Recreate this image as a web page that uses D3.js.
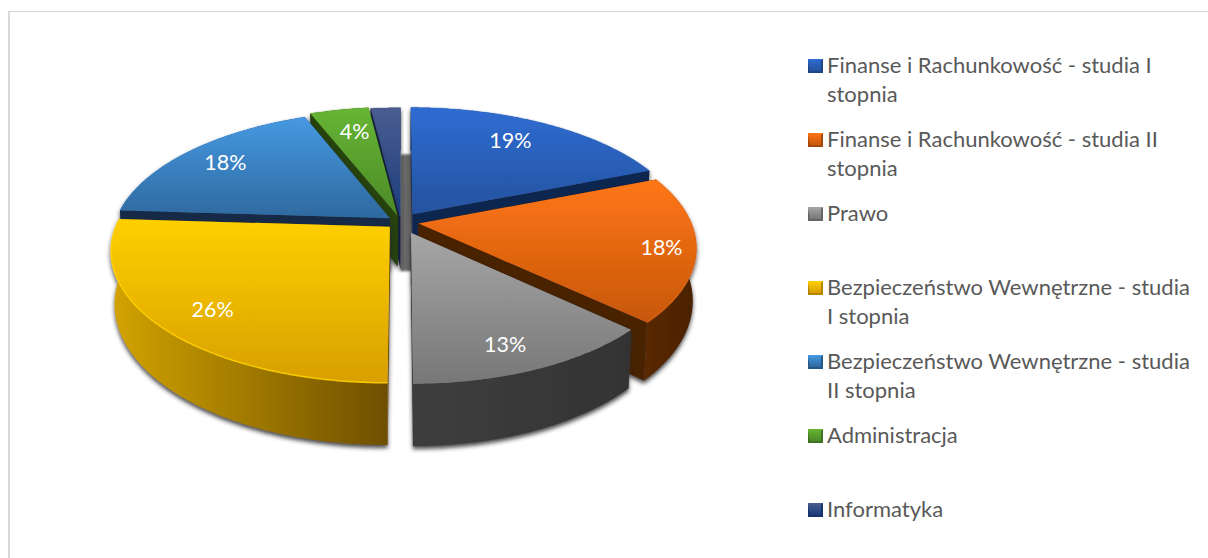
<!DOCTYPE html>
<html>
<head>
<meta charset="utf-8">
<script src="https://cdn.jsdelivr.net/npm/d3@7"></script>
<style>
  html, body { margin: 0; padding: 0; background: #fff; }
  svg { display: block; }
  text { font-family: Lato, "Open Sans", sans-serif; }
</style>
</head>
<body>
<script>
// chart values
const categories = [
    "Finanse i Rachunkowość - studia I stopnia",
    "Finanse i Rachunkowość - studia II stopnia",
    "Prawo",
    "Bezpieczeństwo Wewnętrzne - studia I stopnia",
    "Bezpieczeństwo Wewnętrzne - studia II stopnia",
    "Administracja",
    "Informatyka"
];
const values = [19, 18, 13, 26, 18, 4, 2];
const legendLines = [
    ["Finanse i Rachunkowość - studia I", "stopnia"],
    ["Finanse i Rachunkowość - studia II", "stopnia"],
    ["Prawo"],
    ["Bezpieczeństwo Wewnętrzne - studia", "I stopnia"],
    ["Bezpieczeństwo Wewnętrzne - studia", "II stopnia"],
    ["Administracja"],
    ["Informatyka"]
];
const hiddenLabels = ["Informatyka"];

// per slice look
const topFrom = ["#2f6cd2", "#ff7614", "#a6a6a6", "#ffd000", "#4699e2", "#67b534", "#4a5d90"];
const topTo = ["#24539f", "#c7570e", "#777777", "#d89f00", "#2e699f", "#4b8a27", "#1c3c7c"];
const wallFrom = ["#10264f", "#5a2905", "#3e3e3e", "#d2a300", "#152c47", "#26430f", "#0f1f40"];
const wallTo = ["#10264f", "#4a2003", "#333333", "#6e4f00", "#152c47", "#26430f", "#0f1f40"];
const rimOpacity = [0.3, 0.4, 0, 0.9, 0.25, 0.25, 0.25];
const explode = [0.075, 0.065, 0.09, 0.055, 0.05, 0.05, 0.03];
const sliceRadius = [1, 0.99, 0.95, 0.99, 1, 1.02, 1.03];
const labelRadius = [0.77, 0.87, 0.79, 0.81, 0.81, 0.78];
const labelTurn = [-2.4, 1, 2, -2, 0, 1];
const drawOrder = [6, 5, 4, 0, 1, 2, 3];
const legendY = [65, 139, 213, 287, 361, 435, 509];

const width = 1208, height = 558;
const cx = 401, cy = 222;
const R = 275, Rh = 128, persp = 0.177, depth = 51, bottomShrink = 0.988;

const svg = d3.select("body").append("svg")
    .attr("width", width)
    .attr("height", height);

const defs = svg.append("defs");

// chart frame, only the top and left sides are inside the window
svg.append("rect")
    .attr("x", 8).attr("y", 11)
    .attr("width", width - 8).attr("height", 1)
    .attr("fill", "#d9d9d9");
svg.append("rect")
    .attr("x", 8).attr("y", 11)
    .attr("width", 2).attr("height", height - 11)
    .attr("fill", "#d9d9d9");

const shadow = defs.append("filter")
    .attr("id", "shadow")
    .attr("x", "-10%").attr("y", "-10%")
    .attr("width", "120%").attr("height", "125%");
shadow.append("feDropShadow")
    .attr("dx", 0).attr("dy", 3)
    .attr("stdDeviation", 2.2)
    .attr("flood-color", "#2a2a2a")
    .attr("flood-opacity", 0.85);

const soft = defs.append("filter").attr("id", "soft");
soft.append("feGaussianBlur").attr("stdDeviation", 0.8);

function gradient(id, from, to, horizontal) {
    const g = defs.append("linearGradient")
        .attr("id", id)
        .attr("x1", 0).attr("y1", 0)
        .attr("x2", horizontal ? 1 : 0).attr("y2", horizontal ? 0 : 1);
    g.append("stop").attr("offset", 0).attr("stop-color", from);
    g.append("stop").attr("offset", 1).attr("stop-color", to);
}

// ground plane -> screen, things closer to the viewer come out bigger
function project(u, v) {
    const w = 1 + persp * v;
    return [cx + R * u / w, cy - Rh * v / w];
}
function dropped(p, u, v) {
    const w = 1 + persp * v;
    return [cx + (p[0] - cx) * bottomShrink, p[1] + depth / w];
}

const pie = d3.pie().sort(null).value(d => d);
const arcs = pie(values);
const total = d3.sum(values);
const line = d3.line();

const slices = arcs.map((a, i) => {
    const mid = (a.startAngle + a.endAngle) / 2;
    const ex = explode[i] * Math.sin(mid), ey = explode[i] * Math.cos(mid);
    const at = (angle, r) => {
        const u = ex + r * Math.sin(angle), v = ey + r * Math.cos(angle);
        return { top: project(u, v), bottom: dropped(project(u, v), u, v) };
    };
    const steps = d3.range(a.startAngle, a.endAngle, 0.01).concat([a.endAngle]);
    return { i, mid, at, steps, rim: steps.map(t => at(t, sliceRadius[i])), apex: at(0, 0) };
});

slices.forEach(s => {
    gradient("top" + s.i, topFrom[s.i], topTo[s.i], false);
    gradient("wall" + s.i, wallFrom[s.i], wallTo[s.i], true);
});

// the dark shadow seen through the gap behind the slices
const blueApex = slices[0].apex.top;
svg.append("rect")
    .attr("x", cx - 1).attr("y", blueApex[1] - 60)
    .attr("width", blueApex[0] - cx + 2).attr("height", 117)
    .attr("rx", 2)
    .attr("fill", "#676767")
    .attr("filter", "url(#soft)");

drawOrder.forEach(i => {
    const s = slices[i];
    const g = svg.append("g").attr("filter", "url(#shadow)");
    const first = s.rim[0], last = s.rim[s.rim.length - 1];

    // radial walls
    [first, last].forEach(p => {
        g.append("path")
            .attr("d", line([s.apex.top, p.top, p.bottom, s.apex.bottom]) + "Z")
            .attr("fill", wallTo[i]);
    });
    // outer wall
    const wallPts = s.rim.map(p => p.top).concat(s.rim.map(p => p.bottom).reverse());
    g.append("path")
        .attr("d", line(wallPts) + "Z")
        .attr("fill", "url(#wall" + i + ")");
    // top face
    const topPts = [s.apex.top].concat(s.rim.map(p => p.top));
    g.append("path")
        .attr("d", line(topPts) + "Z")
        .attr("fill", "url(#top" + i + ")");
    // soft light on the rim
    g.append("path")
        .attr("d", line(s.rim.map(p => p.top)))
        .attr("fill", "none")
        .attr("stroke", topFrom[i])
        .attr("stroke-opacity", rimOpacity[i])
        .attr("stroke-width", 1.5);
});

// percent labels
slices.forEach(s => {
    if (hiddenLabels.includes(categories[s.i])) return;
    const p = s.at(s.mid + labelTurn[s.i] * Math.PI / 180, labelRadius[s.i]).top;
    svg.append("text")
        .attr("x", p[0]).attr("y", p[1])
        .attr("dy", "0.35em")
        .attr("text-anchor", "middle")
        .attr("fill", "#fff")
        .attr("font-size", 21.5)
        .text(d3.format(".0%")(values[s.i] / total));
});

// legend
const legend = svg.append("g");
categories.forEach((c, i) => {
    const y = legendY[i];
    gradient("mark" + i, topFrom[i], topTo[i], false);
    legend.append("rect")
        .attr("x", 808).attr("y", y - 6)
        .attr("width", 15).attr("height", 14)
        .attr("fill", d3.color(topTo[i]).darker(0.5));
    legend.append("path")
        .attr("d", line([[808, y - 6], [823, y - 6], [821, y - 4], [821, y + 6], [810, y + 6], [808, y - 4]]) + "Z")
        .attr("fill", "url(#mark" + i + ")");
    legendLines[i].forEach((t, k) => {
        legend.append("text")
            .attr("x", 827).attr("y", y + k * 29)
            .attr("dy", "0.35em")
            .attr("fill", "#595959")
            .attr("font-size", 22)
            .text(t);
    });
});
</script>
</body>
</html>
